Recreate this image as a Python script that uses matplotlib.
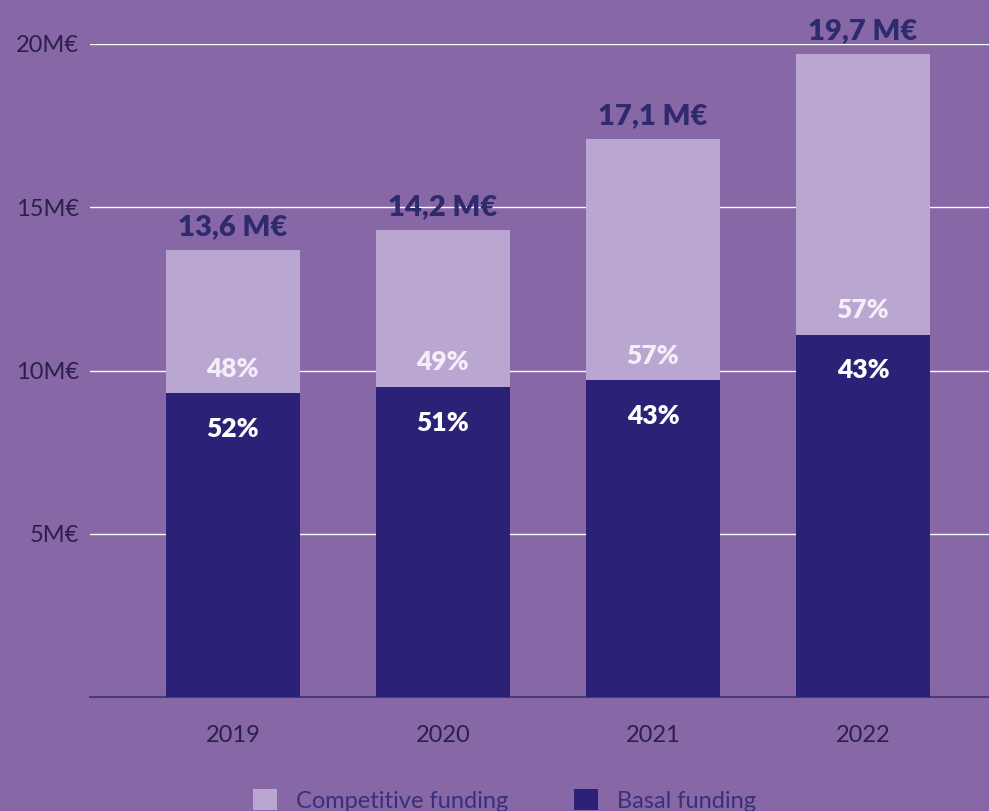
import numpy as np
import matplotlib
matplotlib.use('Agg')
import matplotlib.pyplot as plt
from matplotlib.patches import Patch

# values (M€)
years = ['2019', '2020', '2021', '2022']
basal = [9.3, 9.5, 9.7, 11.1]
competitive = [4.4, 4.8, 7.4, 8.6]
total_labels = ['13,6 M€', '14,2 M€', '17,1 M€', '19,7 M€']
comp_pct = ['48%', '49%', '57%', '57%']
basal_pct = ['52%', '51%', '43%', '43%']
yticks = [5, 10, 15, 20]
ytick_labels = ['5M€', '10M€', '15M€', '20M€']

bg = '#8767a5'
light = '#b9a6d1'
dark = '#2b2278'
navy_txt = '#2e2a6e'

plt.rcParams['font.family'] = ['Lato', 'DejaVu Sans']

fig = plt.figure(figsize=(9.89, 8.11), dpi=100)
fig.patch.set_facecolor(bg)
ax = fig.add_axes([90 / 989, (811 - 697) / 811, 1 - 90 / 989, (697 - 44) / 811])
ax.set_facecolor(bg)

x = np.arange(len(years))
w = 0.64
ax.bar(x, basal, width=w, color=dark, zorder=3)
ax.bar(x, competitive, width=w, bottom=basal, color=light, zorder=3)

for i in range(len(years)):
    top = basal[i] + competitive[i]
    ax.text(x[i], top + 0.3, total_labels[i], ha='center', va='bottom',
            fontsize=21, fontweight='heavy', color=navy_txt, clip_on=False)
    ax.text(x[i], basal[i] + 0.75, comp_pct[i], ha='center', va='center',
            fontsize=19, fontweight='heavy', color='#f3eef8', zorder=4)
    ax.text(x[i], basal[i] - 1.1, basal_pct[i], ha='center', va='center',
            fontsize=19, fontweight='heavy', color='white', zorder=4)

ax.set_xlim(-0.68, 3.6)
ax.set_ylim(0, 20)
ax.set_yticks(yticks)
ax.set_yticklabels(ytick_labels, fontsize=17, color='#2a2048')
ax.set_xticks(x)
ax.set_xticklabels(years, fontsize=17, color='#2a2048')
ax.tick_params(axis='both', length=0)
ax.tick_params(axis='y', pad=8)
ax.tick_params(axis='x', pad=20)
ax.yaxis.grid(True, color='white', linewidth=1.0, zorder=0)
ax.set_axisbelow(True)
for s in ['top', 'right', 'left']:
    ax.spines[s].set_visible(False)
ax.spines['bottom'].set_color('#4a3a78')
ax.spines['bottom'].set_linewidth(1.5)

handles = [Patch(facecolor=light, label='Competitive funding'),
           Patch(facecolor=dark, label='Basal funding')]
leg = fig.legend(handles=handles, loc='center', bbox_to_anchor=(0.51, 0.013),
                 ncol=2, frameon=False, fontsize=17, handlelength=1.0,
                 handleheight=1.0, columnspacing=2.8, handletextpad=0.8)
for t in leg.get_texts():
    t.set_color('#3a2f7a')

fig.savefig('out.png', dpi=100, facecolor=bg)
